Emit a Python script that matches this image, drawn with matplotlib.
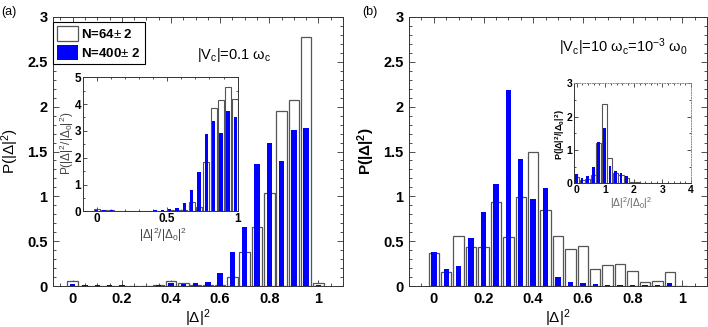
import numpy as np
import matplotlib
matplotlib.use("Agg")
import matplotlib.pyplot as plt
from matplotlib.patches import Patch
from matplotlib.ticker import MultipleLocator

plt.rcParams['font.family'] = ['Liberation Sans', 'DejaVu Sans']
plt.rcParams['mathtext.fontset'] = 'custom'
plt.rcParams['mathtext.rm'] = 'Liberation Sans'
plt.rcParams['mathtext.it'] = 'Liberation Sans'
plt.rcParams['mathtext.bf'] = 'Liberation Sans:bold'

# ---------------- data ----------------
bins_main = [0.0, 0.05, 0.1, 0.15, 0.2, 0.25, 0.3, 0.35, 0.4, 0.45, 0.5,
             0.55, 0.6, 0.65, 0.7, 0.75, 0.8, 0.85, 0.9, 0.95, 1.0]

a_n64 = [0.056, 0.005, 0.004, 0.004, 0.004, 0.004, 0.004, 0.01, 0.056, 0.035, 0.015,
         0.01, 0.015, 0.10, 0.375, 0.66, 1.04, 1.95, 2.07, 2.78, 0.03]
a_n400 = [0.025, 0.01, 0.008, 0.008, 0.006, 0.005, 0.005, 0.008, 0.03, 0.025, 0.035,
          0.048, 0.142, 0.375, 0.66, 1.36, 1.59, 1.39, 1.74, 1.76, 0.01]

b_n64 = [0.365, 0.16, 0.558, 0.43, 0.43, 0.94, 0.543, 0.99, 1.50, 0.845, 0.558,
         0.41, 0.446, 0.19, 0.23, 0.25, 0.164, 0.04, 0.052, 0.153, 0.0]
b_n400 = [0.376, 0.19, 0.22, 0.536, 0.83, 1.14, 2.19, 1.42, 0.97, 1.09, 0.104,
          0.048, 0.03, 0.026, 0.011, 0.01, 0.01, 0.015, 0.015, 0.033, 0.005]

bins_inset_a = [0.0, 0.052, 0.104, 0.155, 0.207, 0.259, 0.311, 0.363, 0.414, 0.466,
                0.518, 0.570, 0.622, 0.673, 0.725, 0.777, 0.829, 0.881, 0.932, 0.984]
ia_n64 = [0.07, 0.04, 0.03, 0.02, 0.02, 0.01, 0.01, 0.01, 0.01, 0.02,
          0.03, 0.04, 0.05, 0.36, 0.17, 1.83, 3.84, 4.15, 4.63, 4.2]
ia_n400 = [0.04, 0.03, 0.03, 0.02, 0.02, 0.01, 0.01, 0.02, 0.04, 0.05,
           0.09, 0.12, 0.32, 0.80, 1.47, 2.89, 3.38, 2.94, 3.74, 3.51]

bins_inset_b = [0.0, 0.194, 0.388, 0.582, 0.776, 0.97, 1.164, 1.358, 1.552, 1.746,
                1.94, 2.134, 2.328, 2.522, 2.716]
ib_n64 = [0.2, 0.1, 0.12, 0.25, 1.2, 2.38, 0.75, 0.3, 0.25, 0.15, 0.05, 0.03, 0.02, 0.02, 0.01]
ib_n400 = [0.28, 0.17, 0.22, 0.49, 1.24, 1.67, 0.51, 0.36, 0.31, 0.21, 0.02, 0.01, 0.01, 0.01, 0.005]

labels = ['N=64$\\pm$ 2', 'N=400$\\pm$ 2']

BLUE = '#0000ff'
EDGE = '#555555'
SPINE = '#333333'

fig = plt.figure(figsize=(7.08, 3.27), dpi=100)


def style_axes(ax, fs=8.5, xmin=0.05, ymin=0.1, major_len=4, minor_len=2):
    for s in ax.spines.values():
        s.set_color(SPINE)
        s.set_linewidth(0.7)
    ax.tick_params(which='both', direction='in', top=True, right=True,
                   colors=SPINE, labelcolor='black', labelsize=fs, width=0.6)
    ax.tick_params(which='major', length=major_len, pad=3)
    ax.tick_params(which='minor', length=minor_len)
    ax.xaxis.set_minor_locator(MultipleLocator(xmin))
    ax.yaxis.set_minor_locator(MultipleLocator(ymin))
    for lab in ax.get_xticklabels() + ax.get_yticklabels():
        lab.set_fontweight('bold')


def draw_bars(ax, x, w, b, ww, bw, lw=0.9):
    ax.bar(x, w, width=ww, facecolor='white', edgecolor=EDGE, linewidth=lw, zorder=2)
    ax.bar(x, b, width=bw, facecolor=BLUE, edgecolor='none', zorder=3)


# ---------------- panel (a) ----------------
axa = fig.add_axes([53 / 708, 1 - 286 / 327, 290 / 708, 269 / 327])
draw_bars(axa, bins_main, a_n64, a_n400, 0.043, 0.022)
axa.set_xlim(-0.08, 1.1)
axa.set_ylim(0, 3)
axa.set_xticks([0, 0.2, 0.4, 0.6, 0.8, 1.0])
axa.set_xticklabels(['0', '0.2', '0.4', '0.6', '0.8', '1'])
axa.set_yticks([0, 0.5, 1, 1.5, 2, 2.5, 3])
axa.set_yticklabels(['0', '0.5', '1', '1.5', '2', '2.5', '3'])
style_axes(axa, fs=10.5)
axa.tick_params(which='major', pad=4)
axa.set_xlabel('$|\\Delta|^2$', fontsize=11, labelpad=1)
axa.set_ylabel('P($|\\Delta|^2$)', fontsize=11, labelpad=4)
axa.text(0.505, 2.53, '$|V_c|$=0.1 $\\omega_c$', fontsize=10.5, va='baseline', ha='left')

handles = [Patch(facecolor='white', edgecolor=EDGE, linewidth=0.9),
           Patch(facecolor=BLUE, edgecolor='none')]
leg = axa.legend(handles, labels, loc='upper left', bbox_to_anchor=(0.0, 1 - 4.7 / 269),
                 borderaxespad=0.0, fancybox=False, framealpha=1, edgecolor='black',
                 prop={'weight': 'bold', 'size': 9.5}, handlelength=1.6, handleheight=1.4,
                 handletextpad=0.25, labelspacing=0.28, borderpad=0.3)
leg.get_frame().set_linewidth(0.8)
leg.set_zorder(5)

# inset (a)
ia = fig.add_axes([83.3 / 708, 1 - 211.3 / 327, 154.4 / 708, 134 / 327])
draw_bars(ia, bins_inset_a, ia_n64, ia_n400, 0.043, 0.024, lw=0.8)
ia.set_xlim(-0.095, 1.0)
ia.set_ylim(0, 5)
ia.set_xticks([0, 0.5, 1])
ia.set_xticklabels(['0', '0.5', '1'])
ia.set_yticks([0, 1, 2, 3, 4, 5])
style_axes(ia, fs=8.5, xmin=0.1, ymin=0.5, major_len=3, minor_len=1.5)
ia.tick_params(which='major', pad=1.5)
ia.text(0.516, -0.175, '$|\\Delta|^2/|\\Delta_0|^2$', transform=ia.transAxes,
        fontsize=8.5, color='#444444', ha='center', va='center')
ia.text(-0.105, 0.51, 'P($|\\Delta|^2/|\\Delta_0|^2$)', transform=ia.transAxes,
        fontsize=8.5, color='#444444', ha='center', va='center', rotation=90)

# ---------------- panel (b) ----------------
axb = fig.add_axes([409 / 708, 1 - 286 / 327, 298 / 708, 269 / 327])
draw_bars(axb, bins_main, b_n64, b_n400, 0.042, 0.022)
axb.set_xlim(-0.1, 1.1)
axb.set_ylim(0, 3)
axb.set_xticks([0, 0.2, 0.4, 0.6, 0.8, 1.0])
axb.set_xticklabels(['0', '0.2', '0.4', '0.6', '0.8', '1'])
axb.set_yticks([0, 0.5, 1, 1.5, 2, 2.5, 3])
axb.set_yticklabels(['0', '0.5', '1', '1.5', '2', '2.5', '3'])
style_axes(axb, fs=10.5)
axb.tick_params(which='major', pad=4)
axb.set_xlabel('$|\\Delta|^2$', fontsize=11, labelpad=1)
axb.set_ylabel('P($\\mathbf{|\\Delta|^2}$)', fontsize=11, fontweight='bold', labelpad=4)
axb.text(0.506, 2.615, '$|V_c|$=10 $\\omega_c$=10$^{-3}$ $\\omega_0$', fontsize=10.5,
         va='baseline', ha='left')

# inset (b)
ib = fig.add_axes([574.3 / 708, 1 - 183.3 / 327, 116.7 / 708, 100 / 327])
draw_bars(ib, bins_inset_b, ib_n64, ib_n400, 0.177, 0.094, lw=0.8)
ib.set_xlim(-0.08, 4)
ib.set_ylim(0, 3)
ib.set_xticks([0, 1, 2, 3, 4])
ib.set_yticks([0, 1, 2, 3])
style_axes(ib, fs=7.5, xmin=0.2, ymin=0.5, major_len=3, minor_len=1.5)
ib.tick_params(which='major', pad=1.5)
for side in ['top', 'right']:
    ib.spines[side].set_color('#888888')
    ib.spines[side].set_linestyle(':')
ib.text(0.486, -0.2, '$|\\Delta|^2/|\\Delta_0|^2$', transform=ib.transAxes,
        fontsize=7.5, color='#666666', ha='center', va='center')
ib.text(-0.12, 0.49, 'P($\\mathbf{|\\Delta|^2/|\\Delta_0|^2}$)', transform=ib.transAxes,
        fontsize=6.5, ha='center', va='center', rotation=90, fontweight='bold')

fig.text(1 / 708, 1 - 12 / 327, '(a)', fontsize=9, va='center', ha='left')
fig.text(362 / 708, 1 - 12 / 327, '(b)', fontsize=9, va='center', ha='left')

fig.savefig('out.png', dpi=100)
